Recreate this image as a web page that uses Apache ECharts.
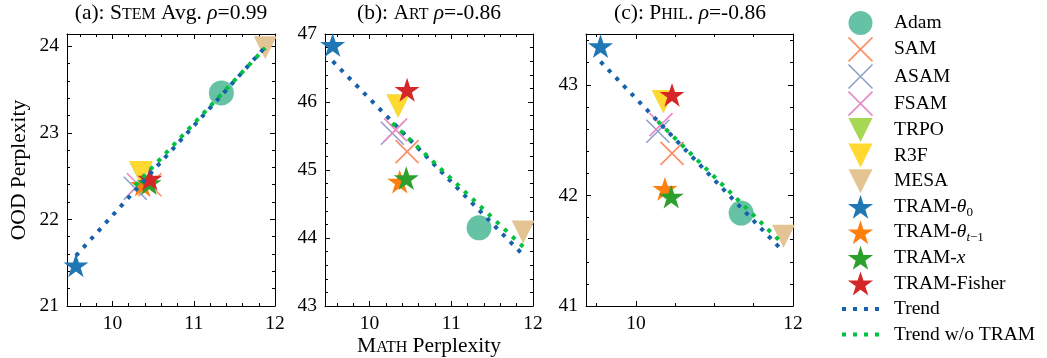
<!DOCTYPE html>
<html><head><meta charset="utf-8">
<script src="https://cdn.jsdelivr.net/npm/echarts@6/dist/echarts.min.js"></script>
<style>html,body{margin:0;padding:0;background:#fff}#c{width:1047px;height:358px}</style>
</head><body><div id="c"></div>
<script>
// ---------------- data ----------------
const methods = ['Adam','SAM','ASAM','FSAM','TRPO','R3F','MESA','TRAM-θ0','TRAM-θt-1','TRAM-x','TRAM-Fisher'];
const mathPpl    = [11.34, 10.46, 10.28, 10.32, 10.35, 10.35, 11.88, 9.55, 10.37, 10.45, 10.46];
const stemAvgPpl = [23.46, 22.40, 22.36, 22.40, 22.53, 22.54, 23.98, 21.47, 22.40, 22.42, 22.47];
const artPpl     = [44.15, 45.27, 45.54, 45.59, 45.94, 45.94, 44.09, 46.84, 44.83, 44.88, 46.18];
const philPpl    = [41.84, 42.38, 42.58, 42.64, 42.85, 42.85, 41.63, 43.35, 42.06, 41.99, 42.91];

// trend line end points
const trendX          = [9.55, 11.88];
const trendStem       = [21.58, 23.99];
const trendArt        = [46.60, 43.75];
const trendPhil       = [43.21, 41.49];
const trendNoTramX    = [10.28, 11.88];
const trendNoTramStem = [22.39, 23.98];
const trendNoTramArt  = [45.69, 43.87];
const trendNoTramPhil = [42.67, 41.555];

// axes
const xRanges = [[9.44, 12], [9.456, 12], [9.365, 12]];
const yRanges = [[21, 24.14], [43, 47], [41, 43.46]];
const xMajorTicks = [[10, 11, 12], [10, 11, 12], [10, 12]];
const yMajorTicks = [[21, 22, 23, 24], [43, 44, 45, 46, 47], [41, 42, 43]];
const xMinorStep = [0.2, 0.2, 0.5];
const yMinorStep = [0.2, 0.2, 0.2];

// ---------------- styling ----------------
const FONT = 'Liberation Serif';
const colors = ['#66c2a5','#fc8d62','#8da0cb','#e78ac3','#a6d854','#ffd92f','#e5c494','#1f77b4','#ff7f0e','#2ca02c','#d62728'];
const kinds = ['circle','x','x','x','tri','tri','tri','star','star','star','star'];
const TREND_C = '#1760aa', TREND2_C = '#00c23f';
const SYM = {
  circle: {symbol: 'circle', size: 25},
  x: {symbol: 'path://M-1,-1L1,1M1,-1L-1,1', size: 23},
  tri: {symbol: 'path://M-1,-1L1,-1L0,1Z', size: 23},
  star: {symbol: 'path://M0,-10L2.245,-3.09L9.511,-3.09L3.633,1.18L5.878,8.09L0,3.82L-5.878,8.09L-3.633,1.18L-9.511,-3.09L-2.245,-3.09Z', size: 25}
};
const DOTS_ICON = 'path://M0,0h4v4h-4zM11,0h4v4h-4zM22,0h4v4h-4zM33,0h4v4h-4z';

const grids = [
  {left: 67, top: 34, width: 208, height: 272},
  {left: 325, top: 34, width: 208, height: 272},
  {left: 586, top: 34, width: 207, height: 272}
].map(g => Object.assign(g, {containLabel: false, outerBoundsMode: 'none'}));

function minorTicks(range, step, major) {
  const out = [];
  const start = Math.ceil(range[0] / step - 1e-9);
  for (let k = start; k * step <= range[1] + 1e-9; k++) {
    const v = +(k * step).toFixed(4);
    if (v > range[0] && v < range[1] && !major.some(m => Math.abs(m - v) < 1e-6)) out.push(v);
  }
  return out;
}

function makeAxis(g, pos, range, ticks, len, line, labels) {
  return {
    type: 'value', gridIndex: g, position: pos, min: range[0], max: range[1],
    axisLine: {show: line, onZero: false, lineStyle: {color: '#000', width: 1}},
    axisTick: {show: true, inside: true, length: len, customValues: ticks, lineStyle: {color: '#000', width: 1}},
    axisLabel: {show: labels, customValues: ticks, color: '#000', fontFamily: FONT, fontSize: 19.5, margin: 8,
                formatter: v => String(v)},
    splitLine: {show: false}, minorTick: {show: false}, minorSplitLine: {show: false},
    axisPointer: {show: false}, silent: true
  };
}

const xAxes = [], yAxes = [];
for (let g = 0; g < 3; g++) {
  const xm = minorTicks(xRanges[g], xMinorStep[g], xMajorTicks[g]);
  const ym = minorTicks(yRanges[g], yMinorStep[g], yMajorTicks[g]);
  ['bottom', 'top'].forEach((pos, k) => {
    xAxes.push(makeAxis(g, pos, xRanges[g], xMajorTicks[g], 5, true, k === 0));
    xAxes.push(makeAxis(g, pos, xRanges[g], xm, 3, false, false));
  });
  ['left', 'right'].forEach((pos, k) => {
    yAxes.push(makeAxis(g, pos, yRanges[g], yMajorTicks[g], 5, true, k === 0));
    yAxes.push(makeAxis(g, pos, yRanges[g], ym, 3, false, false));
  });
}
// rich styles for small caps
const scRich = (big, small) => ({
  big: {fontFamily: FONT, fontSize: big, color: '#000'},
  small: {fontFamily: FONT, fontSize: small, color: '#000', padding: [3, 0, 0, 0]},
  it: {fontFamily: FONT, fontSize: big, fontStyle: 'italic', color: '#000'}
});
// axis names
Object.assign(yAxes[0], {
  name: 'OOD Perplexity', nameLocation: 'middle', nameGap: 37, nameMoveOverlap: false,
  nameTextStyle: {fontFamily: FONT, fontSize: 21.5, color: '#000'}
});
Object.assign(xAxes[4], {
  name: '{big|M}{small|ATH} Perplexity', nameLocation: 'middle', nameGap: 29, nameMoveOverlap: false,
  nameTextStyle: {fontFamily: FONT, fontSize: 21.5, color: '#000', rich: scRich(21.5, 16)}
});

const panelVals = [stemAvgPpl, artPpl, philPpl];
const trendAll = [trendStem, trendArt, trendPhil];
const trendNo = [trendNoTramStem, trendNoTramArt, trendNoTramPhil];

const series = [];
for (let g = 0; g < 3; g++) {
  methods.forEach((m, i) => {
    const s = SYM[kinds[i]];
    const st = {color: colors[i], opacity: 1};
    if (kinds[i] === 'x') Object.assign(st, {borderColor: colors[i], borderWidth: 1.6});
    series.push({
      type: 'scatter', name: m, xAxisIndex: 4 * g, yAxisIndex: 4 * g,
      data: [[mathPpl[i], panelVals[g][i]]],
      symbol: s.symbol, symbolSize: s.size, symbolKeepAspect: true,
      itemStyle: st, z: 2, clip: false, silent: true
    });
  });
  series.push({
    type: 'line', name: 'Trend', xAxisIndex: 4 * g, yAxisIndex: 4 * g,
    data: trendX.map((x, k) => [x, trendAll[g][k]]), symbol: 'none', color: TREND_C,
    lineStyle: {color: TREND_C, width: 4, type: [4, 7], cap: 'butt'}, z: 3, silent: true
  });
  series.push({
    type: 'line', name: 'Trend w/o TRAM', xAxisIndex: 4 * g, yAxisIndex: 4 * g,
    data: trendNoTramX.map((x, k) => [x, trendNo[g][k]]), symbol: 'none', color: TREND2_C,
    lineStyle: {color: TREND2_C, width: 4, type: [4, 7], cap: 'butt'}, z: 4, silent: true
  });
}

const legendLabels = {
  'TRAM-θ0': 'TRAM-{it|θ}{sub|0}',
  'TRAM-θt-1': 'TRAM-{it|θ}{subi|t}{sub|−1}',
  'TRAM-x': 'TRAM-{it|x}'
};
const legendData = methods.map((m, i) => ({
  name: m,
  itemStyle: kinds[i] === 'x' ? {color: colors[i], borderColor: colors[i], borderWidth: 1.6} : {color: colors[i], borderWidth: 0}
})).concat([
  {name: 'Trend', icon: DOTS_ICON, itemStyle: {color: TREND_C, borderWidth: 0}},
  {name: 'Trend w/o TRAM', icon: DOTS_ICON, itemStyle: {color: TREND2_C, borderWidth: 0}}
]);

const titleTexts = [
  '(a): {big|S}{small|TEM} Avg. {it|ρ}=0.99',
  '(b): {big|A}{small|RT} {it|ρ}=-0.86',
  '(c): {big|P}{small|HIL}. {it|ρ}=-0.86'
];
const titleCenters = [171, 429, 690];

const option = {
  animation: false,
  backgroundColor: '#fff',
  title: titleTexts.map((t, g) => ({
    text: t, left: titleCenters[g], top: 2, textAlign: 'center', padding: 0,
    textStyle: {fontFamily: FONT, fontSize: 21.5, fontWeight: 'normal', color: '#000', rich: scRich(21.5, 16)}
  })),
  grid: grids,
  xAxis: xAxes,
  yAxis: yAxes,
  legend: {
    orient: 'vertical', left: 842, top: 11, itemWidth: 37, itemHeight: 24, itemGap: 1.56,
    padding: 0, selectedMode: false, symbolKeepAspect: true,
    data: legendData,
    formatter: n => legendLabels[n] || n,
    textStyle: {
      fontFamily: FONT, fontSize: 19.5, color: '#000', lineHeight: 24, padding: [0, 0, 0, 10],
      rich: {
        it: {fontFamily: FONT, fontSize: 19.5, fontStyle: 'italic', lineHeight: 24, color: '#000'},
        sub: {fontFamily: FONT, fontSize: 13, lineHeight: 13, verticalAlign: 'bottom', color: '#000'},
        subi: {fontFamily: FONT, fontSize: 13, fontStyle: 'italic', lineHeight: 13, verticalAlign: 'bottom', color: '#000'}
      }
    }
  },
  series: series
};

const chart = echarts.init(document.getElementById('c'), null, {renderer: 'canvas'});
chart.setOption(option);
</script>
</body></html>
